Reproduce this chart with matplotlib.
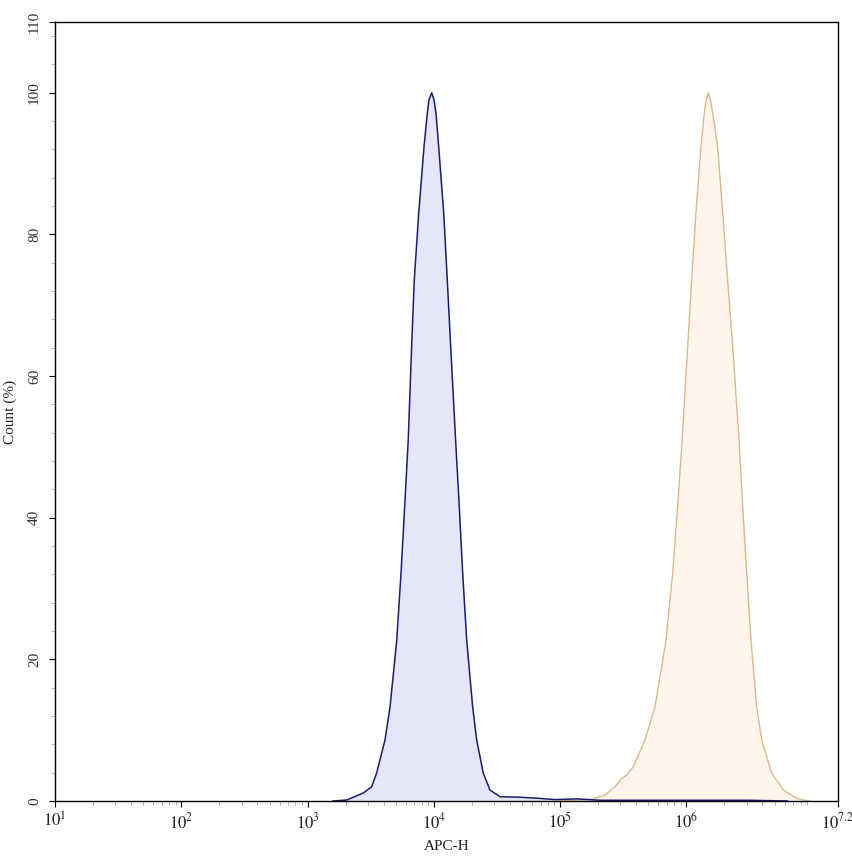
import numpy as np
import matplotlib
matplotlib.use("Agg")
import matplotlib.pyplot as plt
from matplotlib.ticker import FixedLocator, MultipleLocator, FixedFormatter

plt.rcParams['font.family'] = ['Liberation Serif', 'DejaVu Serif']
plt.rcParams['mathtext.fontset'] = 'stix'

# ---- data (log10 of APC-H, count %) ----
blue_log = [3.20, 3.310, 3.441, 3.508, 3.547, 3.613, 3.653, 3.706, 3.740, 3.769,
            3.797, 3.824, 3.845, 3.880, 3.922, 3.948, 3.961, 3.983, 4.001, 4.017, 4.038,
            4.078, 4.106, 4.133, 4.172, 4.201, 4.228, 4.260, 4.307, 4.339,
            4.391, 4.444, 4.524, 4.658, 4.817, 4.96, 5.133, 5.32, 5.6, 6.0,
            6.5, 6.8]
blue_cnt = [0.0, 0.14, 1.13, 2.02, 3.95, 8.61, 13.3, 22.7, 32.2, 41.6,
            51.0, 64.2, 73.6, 83.0, 92.4, 97.1, 99.0, 100.0, 99.0, 97.1, 92.4,
            83.0, 73.6, 64.2, 51.0, 41.6, 32.2, 22.7, 13.3, 8.61,
            3.95, 1.55, 0.6, 0.55, 0.4, 0.2, 0.3, 0.1, 0.1, 0.1,
            0.1, 0.0]

orange_log = [5.0, 5.250, 5.355, 5.434, 5.487, 5.527, 5.579, 5.672, 5.751, 5.838,
              5.891, 5.930, 5.966, 6.010, 6.041, 6.075, 6.115, 6.141, 6.156, 6.173,
              6.190, 6.208, 6.247, 6.287, 6.326, 6.366, 6.416, 6.445, 6.477, 6.511,
              6.556, 6.596, 6.675, 6.767, 6.873, 6.923, 6.98]
orange_cnt = [0.0, 0.24, 0.85, 2.02, 3.2, 3.67, 4.84, 8.61, 13.3, 22.7,
              32.2, 41.6, 51.0, 64.2, 73.6, 83.0, 92.4, 97.1, 99.0, 100.0,
              99.0, 97.1, 92.4, 83.0, 73.6, 64.2, 51.0, 41.6, 32.2, 22.7,
              13.3, 8.61, 3.95, 1.55, 0.38, 0.14, 0.0]

x_tick_exp = [1, 2, 3, 4, 5, 6, 7.2]
x_tick_labels = [r'$10^{1}$', r'$10^{2}$', r'$10^{3}$', r'$10^{4}$',
                 r'$10^{5}$', r'$10^{6}$', r'$10^{7.2}$']
y_ticks = [0, 20, 40, 60, 80, 100, 110]

fig = plt.figure(figsize=(8.53, 8.56), dpi=100)
ax = fig.add_axes([55/853, 55/856, (838-55)/853, (801-22)/856])

bx = 10 ** np.array(blue_log)
ox = 10 ** np.array(orange_log)

ax.fill_between(ox, orange_cnt, 0, color='#FFF5EA', lw=0)
ax.plot(ox, orange_cnt, color='#D8B98E', lw=1.0, solid_joinstyle='round')
ax.fill_between(bx, blue_cnt, 0, color='#E6E6FA', lw=0)
ax.plot(bx, blue_cnt, color='#1C1C6B', lw=1.1, solid_joinstyle='round')

ax.set_xscale('log')
ax.set_xlim(10 ** 1, 10 ** 7.2)
ax.set_ylim(0, 110)

ax.xaxis.set_major_locator(FixedLocator([10 ** e for e in x_tick_exp]))
ax.xaxis.set_major_formatter(FixedFormatter(x_tick_labels))
minor = []
for d in range(1, 8):
    for m in range(2, 10):
        v = m * 10 ** d
        if v < 10 ** 7.2:
            minor.append(v)
ax.xaxis.set_minor_locator(FixedLocator(minor))

ax.yaxis.set_major_locator(FixedLocator(y_ticks))
ax.yaxis.set_minor_locator(MultipleLocator(4))

ax.tick_params(axis='both', which='major', direction='out', length=4, width=0.8,
               colors='black', labelsize=11, labelcolor='#333333')
ax.tick_params(axis='x', which='major', labelsize=12, labelcolor='#222222')
ax.tick_params(axis='both', which='minor', direction='out', length=3, width=0.6,
               colors='#aaaaaa')
for lab in ax.get_yticklabels():
    lab.set_rotation(90)
    lab.set_va('center')
ax.tick_params(axis='y', pad=6)
ax.tick_params(axis='x', pad=4)

for s in ax.spines.values():
    s.set_linewidth(1.0)
    s.set_color('black')

ax.set_xlabel('APC-H', fontsize=11, color='#222222', labelpad=6)
ax.set_ylabel('Count (%)', fontsize=11, color='#222222', labelpad=8)

fig.savefig('out.png', dpi=100)
